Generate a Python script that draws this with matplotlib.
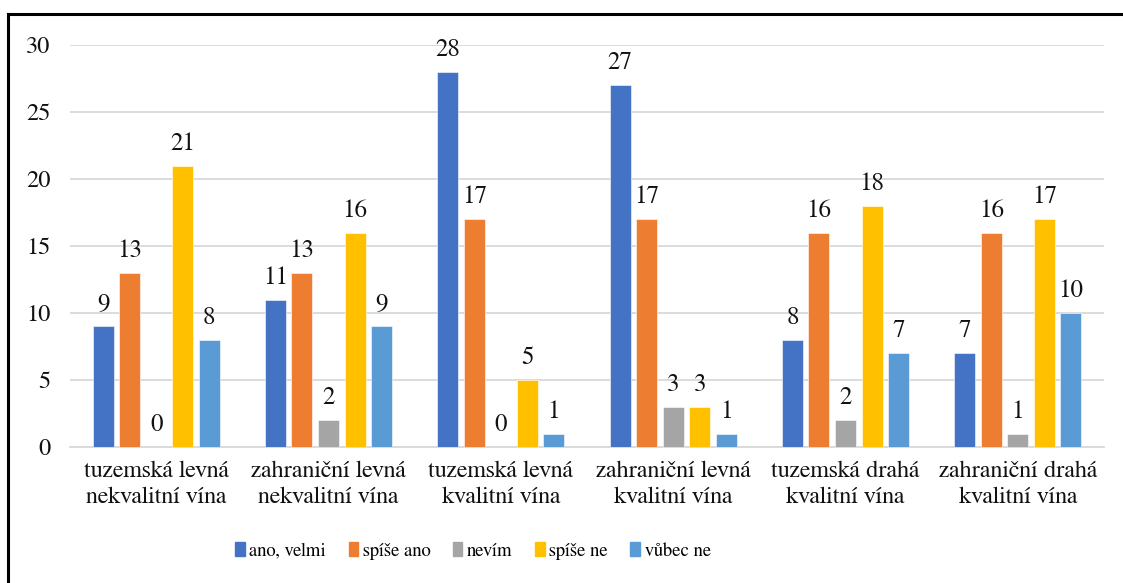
import matplotlib
matplotlib.use("Agg")
import matplotlib.pyplot as plt
from matplotlib.lines import Line2D
import numpy as np

plt.rcParams['font.family'] = ['FreeSerif', 'DejaVu Serif']

categories = ["tuzemská levná\nnekvalitní vína", "zahraniční levná\nnekvalitní vína",
              "tuzemská levná\nkvalitní vína", "zahraniční levná\nkvalitní vína",
              "tuzemská drahá\nkvalitní vína", "zahraniční drahá\nkvalitní vína"]
series_names = ["ano, velmi", "spíše ano", "nevím", "spíše ne", "vůbec ne"]
ano_velmi = [9, 11, 28, 27, 8, 7]
spise_ano = [13, 13, 17, 17, 16, 16]
nevim = [0, 2, 0, 3, 2, 1]
spise_ne = [21, 16, 5, 3, 18, 17]
vubec_ne = [8, 9, 1, 1, 7, 10]
series = [ano_velmi, spise_ano, nevim, spise_ne, vubec_ne]
colors = ["#4472C4", "#ED7D31", "#A5A5A5", "#FFC000", "#5B9BD5"]

fig = plt.figure(figsize=(11.23, 5.83), dpi=100)
ax = fig.add_axes([70/1123, 1-447/583, (1104-70)/1123, (447-45)/583])

x = np.arange(len(categories))
pitch = 0.154
width = 0.122
for i, (vals, c, name) in enumerate(zip(series, colors, series_names)):
    pos = x + (i - 2) * pitch
    bars = ax.bar(pos, vals, width=width, color=c, label=name, zorder=3,
                  edgecolor='white', linewidth=0.4)
    for b, v in zip(bars, vals):
        ax.annotate(str(v), (b.get_x() + b.get_width()/2, v), xytext=(0, 7),
                    textcoords='offset points', ha='center', va='bottom',
                    fontsize=18, color='#111111')

ax.set_xlim(-0.5, len(categories) - 0.5)
ax.set_ylim(0, 30)
ax.set_yticks(range(0, 31, 5))
ax.yaxis.grid(True, color='#d9d9d9', linewidth=1.3, zorder=0)
ax.set_axisbelow(True)
for s in ['top', 'right', 'left']:
    ax.spines[s].set_visible(False)
ax.spines['bottom'].set_color('#d9d9d9')
ax.spines['bottom'].set_linewidth(1.3)
ax.tick_params(axis='y', length=0, labelsize=17.5, colors='#111111', pad=14)
ax.tick_params(axis='x', length=0, labelsize=17.5, colors='#111111', pad=10)
ax.set_xticks(x)
ax.set_xticklabels(categories, linespacing=1.25)

handles = [plt.Rectangle((0, 0), 1, 1, color=c) for c in colors]
fig.legend(handles, series_names, loc='center', bbox_to_anchor=(473/1123, 1-551/583),
           ncol=5, frameon=False, fontsize=13.5, handlelength=0.5, handleheight=0.75,
           handletextpad=0.25, columnspacing=1.2)

# figure frame (top and left only visible)
fig.add_artist(Line2D([8/1123, 1], [1-14/583, 1-14/583], color='black', lw=2.2,
                      transform=fig.transFigure))
fig.add_artist(Line2D([8/1123, 8/1123], [0, 1-14/583], color='black', lw=2.2,
                      transform=fig.transFigure))

fig.savefig("out.png", dpi=100)
